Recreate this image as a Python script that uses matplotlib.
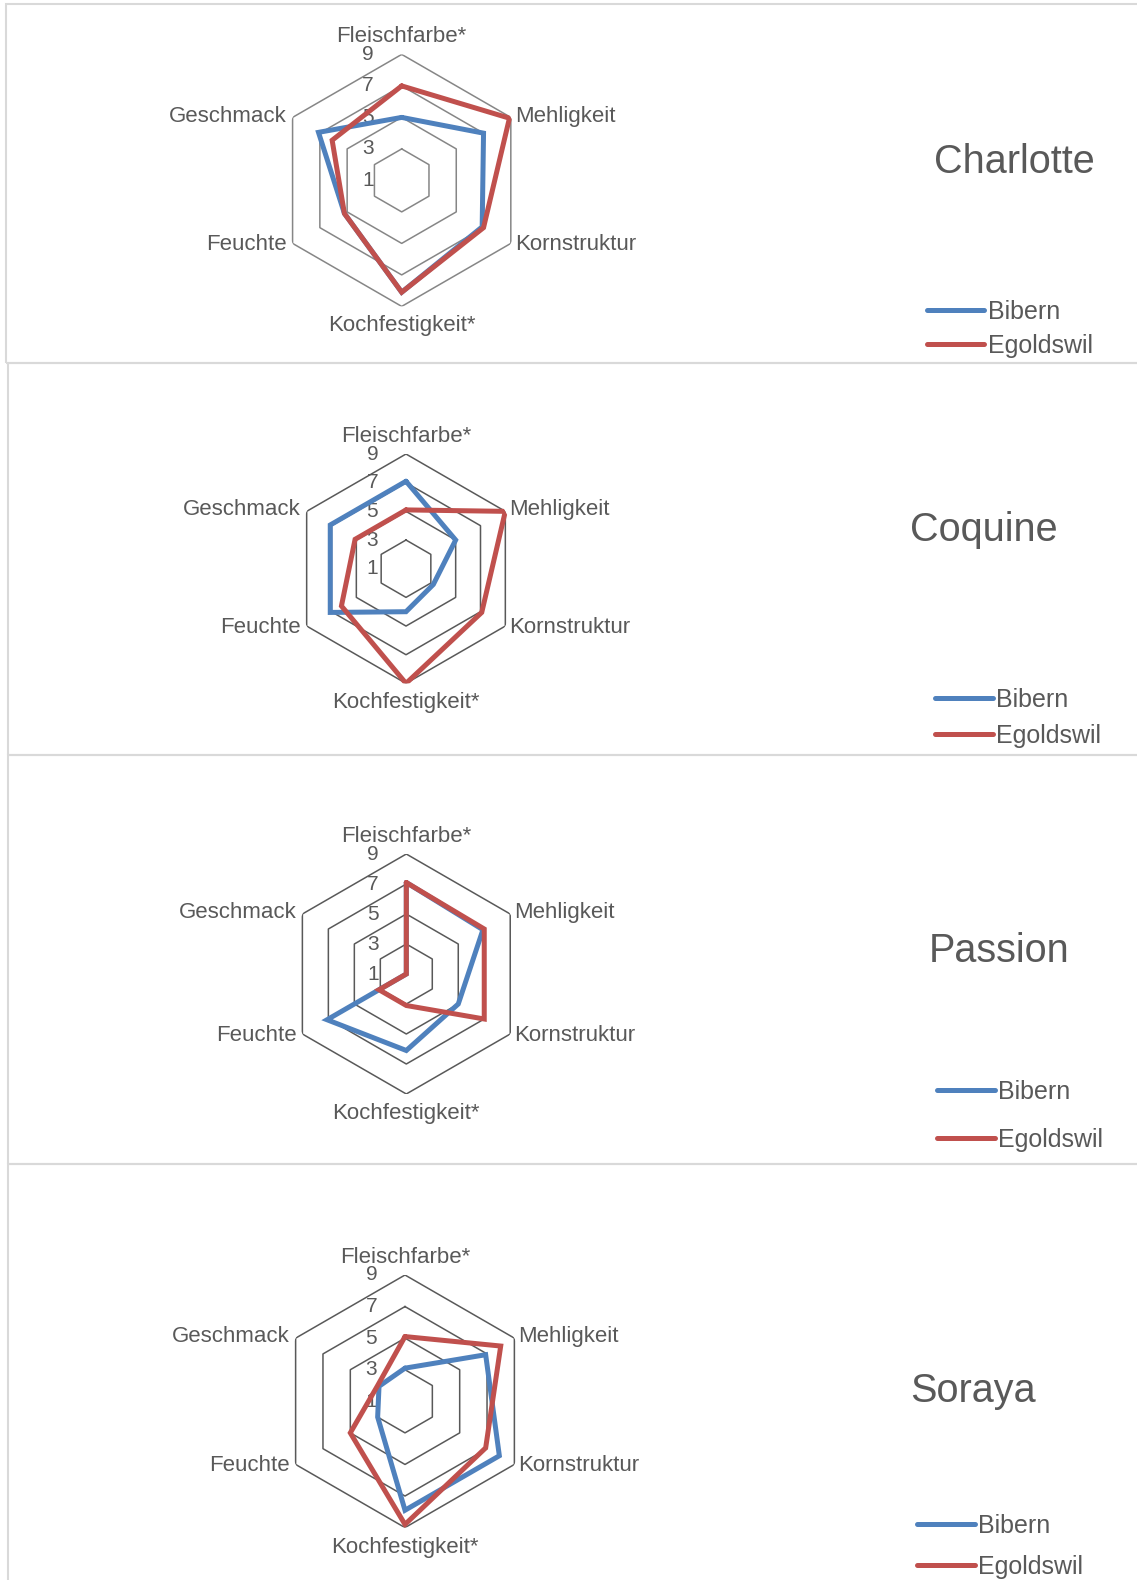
import numpy as np
import matplotlib
matplotlib.use("Agg")
import matplotlib.pyplot as plt
from matplotlib.patches import Rectangle

plt.rcParams['font.family'] = ['Liberation Sans', 'DejaVu Sans']

# Sensory scores (scale 1-9) per potato variety and location
categories = ["Fleischfarbe*", "Mehligkeit", "Kornstruktur",
              "Kochfestigkeit*", "Feuchte", "Geschmack"]
series_names = ["Bibern", "Egoldswil"]
varieties = ["Charlotte", "Coquine", "Passion", "Soraya"]

charlotte_bibern = [5.0, 7.0, 6.9, 8.1, 5.2, 7.1]
charlotte_egoldswil = [7.0, 8.9, 7.0, 8.1, 5.2, 6.1]
coquine_bibern = [7.1, 5.0, 3.2, 4.0, 7.1, 7.1]
coquine_egoldswil = [5.1, 9.0, 7.1, 9.0, 6.2, 5.1]
passion_bibern = [7.1, 6.9, 5.0, 6.1, 7.1, 1.0]
passion_egoldswil = [7.1, 7.0, 7.0, 3.1, 3.1, 1.0]
soraya_bibern = [3.1, 6.9, 7.9, 7.9, 3.0, 2.9]
soraya_egoldswil = [5.1, 8.0, 6.9, 8.8, 5.0, 3.0]

ring_values = [3, 5, 7, 9]
tick_labels = ["1", "3", "5", "7", "9"]

W, H = 1137, 1580
fig = plt.figure(figsize=(W / 100, H / 100), dpi=100)

TXT = "#595959"
BLUE = "#4F81BD"
RED = "#C0504D"
BORDER = "#D9D9D9"

# panel boxes (left, top, bottom) in pixels
boxes = [(5.7, 4.3, 362.7), (8, 362.7, 755), (8, 755, 1164), (8, 1164, 1590)]
for x0, y0, y1 in boxes:
    fig.patches.append(Rectangle((x0 / W, 1 - y1 / H), (W + 10 - x0) / W, (y1 - y0) / H,
                                 transform=fig.transFigure, fill=False,
                                 edgecolor=BORDER, linewidth=1.5))

# radar centre x, y and radius in pixels
layout = [(401.7, 180.4, 126.0), (406.0, 568.7, 114.7),
          (406.3, 974.0, 120.0), (405.0, 1401.3, 126.3)]
titles_xy = [(1014, 162), (984, 530), (999, 951), (973, 1391)]
legend_xy = [(927, 312, 346), (935, 700, 736), (937, 1092, 1140), (917, 1526, 1567)]
grid_colors = ["#868686", "#595959", "#595959", "#595959"]

data = [(charlotte_bibern, charlotte_egoldswil),
        (coquine_bibern, coquine_egoldswil),
        (passion_bibern, passion_egoldswil),
        (soraya_bibern, soraya_egoldswil)]

angles = np.arange(len(categories)) * 2 * np.pi / len(categories)
closed = np.append(angles, angles[0])

# label offsets (points) per category
lab_off = [(0, 5, 'center', 'bottom'), (3, 1, 'left', 'center'), (3, -1, 'left', 'center'),
           (0, -6.5, 'center', 'top'), (-4, -1, 'right', 'center'), (-4, 1, 'right', 'center')]

for i, name in enumerate(varieties):
    cx, cy, R = layout[i]
    ax = fig.add_axes([(cx - R) / W, 1 - (cy + R) / H, 2 * R / W, 2 * R / H],
                      projection='polar')
    ax.set_theta_zero_location('N')
    ax.set_theta_direction(-1)
    ax.set_ylim(1, 9)
    ax.grid(False)
    ax.spines['polar'].set_visible(False)
    ax.set_xticks([])
    ax.set_yticks([])
    ax.patch.set_alpha(0)

    for rv in ring_values:
        ax.plot(closed, [rv] * len(closed), color=grid_colors[i], lw=1.1, zorder=1)

    b, e = data[i]
    lines = []
    for vals, col, lab in [(b, BLUE, series_names[0]), (e, RED, series_names[1])]:
        ln, = ax.plot(closed, np.append(vals, vals[0]), color=col, lw=3.6,
                      solid_joinstyle='miter', solid_capstyle='round', label=lab, zorder=3)
        lines.append(ln)

    for k, t in enumerate(tick_labels):
        ax.annotate(t, xy=(0, float(t)), xytext=(-20, 0), textcoords='offset points',
                    ha='right', va='center', fontsize=15, color=TXT, zorder=2,
                    annotation_clip=False)

    for k, c in enumerate(categories):
        dx, dy, ha, va = lab_off[k]
        ax.annotate(c, xy=(angles[k], 9), xytext=(dx, dy), textcoords='offset points',
                    ha=ha, va=va, fontsize=16, color=TXT, annotation_clip=False)

    tx, ty = titles_xy[i]
    fig.text(tx / W, 1 - ty / H, name, fontsize=28.5, color=TXT, ha='center', va='center')

    lx, ly1, ly2 = legend_xy[i]
    pitch = ly2 - ly1
    fs_px = 25.0
    lsp = max(pitch / fs_px - 0.95, 0.0)
    fig.legend(handles=lines, loc='center left',
               bbox_to_anchor=(lx / W, 1 - (ly1 + ly2) / 2 / H),
               frameon=False, fontsize=18, labelcolor=TXT, handlelength=2.3,
               handletextpad=0.15, borderpad=0, borderaxespad=0, labelspacing=lsp)

fig.savefig("out.png", dpi=100)
